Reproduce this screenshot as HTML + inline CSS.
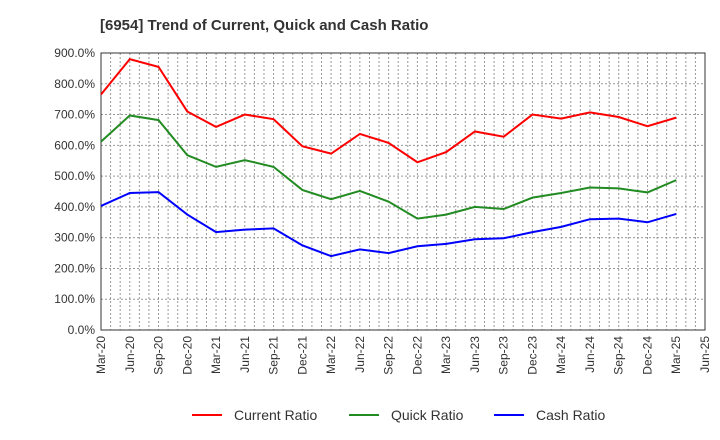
<!DOCTYPE html>
<html><head><meta charset="utf-8"><style>
body{margin:0;background:#fff;font-family:"Liberation Sans",sans-serif}
svg{display:block}
</style></head><body>
<svg id="chart" width="720" height="440">
<text x="100" y="30" font-size="15" font-weight="bold" fill="#333">[6954]  Trend of Current, Quick and Cash Ratio</text>
<g id="grid"></g><g id="axes"></g><g id="series"></g>
<g>
<line x1="192" y1="415" x2="222" y2="415" stroke="#f00" stroke-width="2"/>
<text x="234" y="420" font-size="14" fill="#333">Current Ratio</text>
<line x1="349" y1="415" x2="379" y2="415" stroke="#228b22" stroke-width="2"/>
<text x="391" y="420" font-size="14" fill="#333">Quick Ratio</text>
<line x1="494" y1="415" x2="524" y2="415" stroke="#00f" stroke-width="2"/>
<text x="536" y="420" font-size="14" fill="#333">Cash Ratio</text>
</g>
</svg>
<script>
const categories=["Mar-20","Jun-20","Sep-20","Dec-20","Mar-21","Jun-21","Sep-21","Dec-21","Mar-22","Jun-22","Sep-22","Dec-22","Mar-23","Jun-23","Sep-23","Dec-23","Mar-24","Jun-24","Sep-24","Dec-24","Mar-25"];
const tickLabels=["Mar-20","Jun-20","Sep-20","Dec-20","Mar-21","Jun-21","Sep-21","Dec-21","Mar-22","Jun-22","Sep-22","Dec-22","Mar-23","Jun-23","Sep-23","Dec-23","Mar-24","Jun-24","Sep-24","Dec-24","Mar-25","Jun-25"];
const currentRatio=[765,880,855,710,660,700,685,597,573,637,608,545,578,645,628,700,687,707,692,662,690];
const quickRatio=[612,697,682,568,530,552,530,455,425,452,417,362,375,400,393,430,445,463,460,447,487];
const cashRatio=[403,445,448,375,318,326,330,275,240,262,250,272,280,295,298,318,335,360,362,350,377];
const yTicks=[0,100,200,300,400,500,600,700,800,900];
const L=101,R=705,T=53,B=330,NS="http://www.w3.org/2000/svg";
const q=(R-L)/(tickLabels.length-1);
const xs=i=>L+i*q, ys=v=>B-(v/900)*(B-T);
function mk(t,a,p){const e=document.createElementNS(NS,t);for(const k in a)e.setAttribute(k,a[k]);p.appendChild(e);return e;}
const grid=document.getElementById('grid'),axes=document.getElementById('axes'),ser=document.getElementById('series');
for(let m=1;m<(tickLabels.length-1)*3;m++){const x=L+m*q/3;
const g=mk('line',{x1:x,x2:x,y1:T,y2:B,stroke:'#999','stroke-dasharray':'2,2','stroke-width':1},grid);

}
yTicks.forEach(v=>{const y=ys(v);
const g=mk('line',{x1:L,x2:R,y1:y,y2:y,stroke:'#999','stroke-dasharray':'2,2'},grid);


const t=mk('text',{x:L-6,y:y+4,'text-anchor':'end','font-size':12,fill:'#333'},axes);t.textContent=v.toFixed(1)+'%';

});
mk('rect',{x:L,y:T,width:R-L,height:B-T,fill:'none',stroke:'#333'},axes);
tickLabels.forEach((c,i)=>{const x=xs(i);
const t=mk('text',{x:x+4,y:B+6,'text-anchor':'end','font-size':12,fill:'#333',transform:`rotate(-90 ${x+4} ${B+6})`},axes);t.textContent=c;

});
[[currentRatio,'#f00','current-ratio-line'],[quickRatio,'#228b22','quick-ratio-line'],[cashRatio,'#00f','cash-ratio-line']].forEach(([d,c,n])=>{
const p=mk('polyline',{points:d.map((v,i)=>xs(i)+','+ys(v)).join(' '),fill:'none',stroke:c,'stroke-width':2},ser);

});
</script>
</body></html>
